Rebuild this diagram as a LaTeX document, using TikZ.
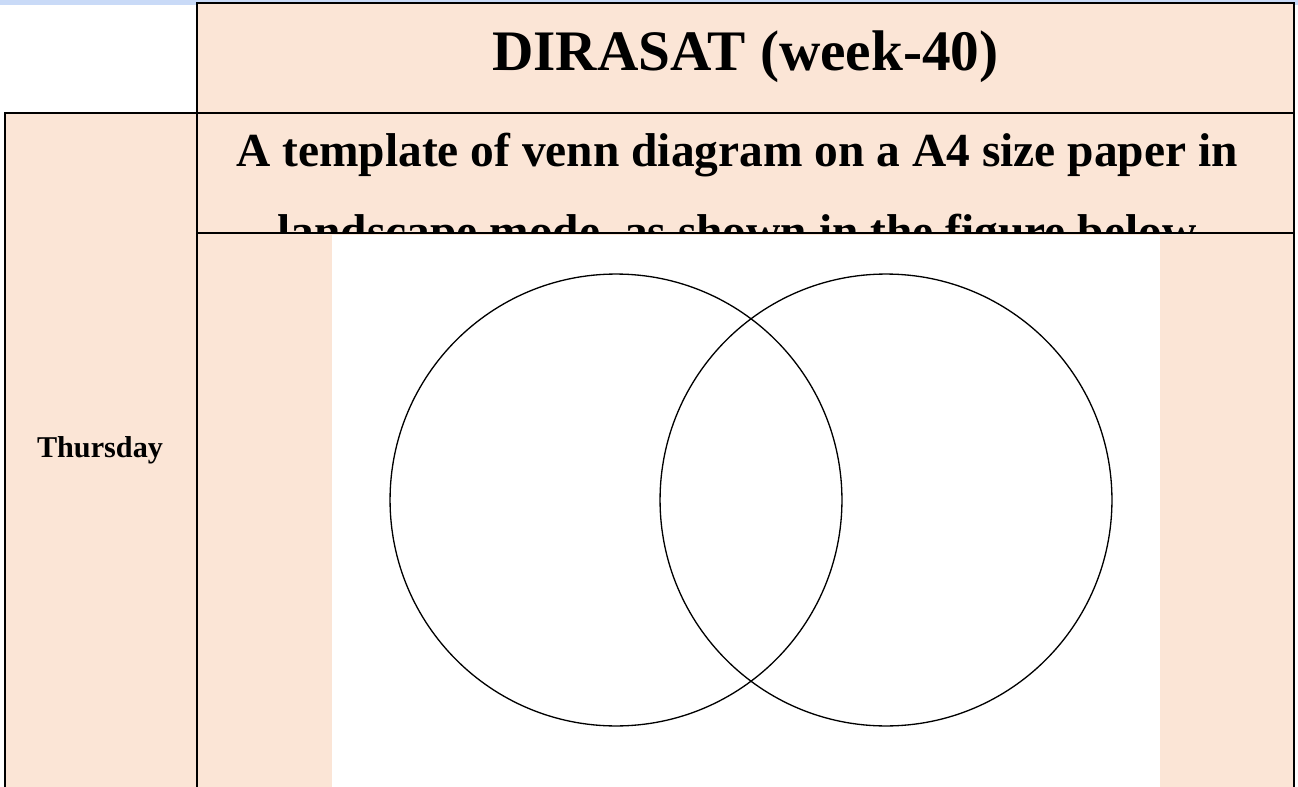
\documentclass[tikz,border=0pt]{standalone}
\usepackage{fontspec}
\setmainfont{Liberation Serif}
\definecolor{cPeach}{RGB}{251,229,214}
\definecolor{cBand} {RGB}{201,218,247}

\begin{document}
\begin{tikzpicture}[
    x=0.02cm, y=-0.02cm,
    cell/.style={draw, fill=cPeach, line width=0.85pt},
    txt/.style={anchor=base, inner sep=0pt},
    % the two sets of the venn template
    venn/.style={circle, draw, line width=0.75pt, minimum size=9.04cm, inner sep=0pt},
]
\useasboundingbox (0,0) rectangle (1298,787);
\clip (0,0) rectangle (1298,787);

% --- Band along the top edge
\fill[cBand] (0,0) rectangle (1298,5);

% --- Header row
\draw[cell] (197,3) rectangle (1294,113);
\node[txt, font=\bfseries\fontsize{32.6}{38}\selectfont] (title) at (745.5,71)
    {DIRASAT (week-40)};

% --- Day column
\draw[cell] (5,113) rectangle (197,800);
\node[txt, font=\bfseries\fontsize{17.2}{20}\selectfont] (day) at (100,457)
    {Thursday};

% --- Task cell
\draw[cell] (197,113) rectangle (1294,800);
\node[txt, font=\bfseries\fontsize{27}{32}\selectfont] (task1) at (737,167)
    {A template of venn diagram on a A4 size paper in};
\node[txt, font=\bfseries\fontsize{27}{32}\selectfont] (task2) at (737,248)
    {landscape mode, as shown in the figure below};

% --- Figure area (hides the lower part of the second line)
\draw[cell] (197,233) rectangle (1294,800);
\fill[white] (332,235) rectangle (1160,800);
\node[venn] (lset) at (616,500) {};
\node[venn] (rset) at (886,500) {};
\end{tikzpicture}
\end{document}
